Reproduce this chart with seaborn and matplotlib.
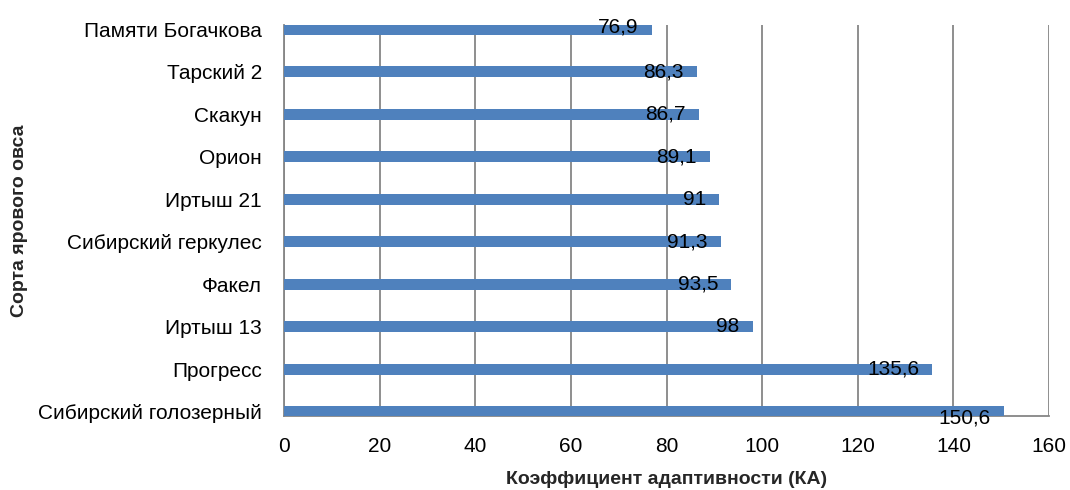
import matplotlib
matplotlib.use("Agg")
import matplotlib.pyplot as plt
import pandas as pd
import seaborn as sns

varieties = ["Памяти Богачкова", "Тарский 2", "Скакун", "Орион", "Иртыш 21",
             "Сибирский геркулес", "Факел", "Иртыш 13", "Прогресс", "Сибирский голозерный"]
ka_values = [76.9, 86.3, 86.7, 89.1, 91.0, 91.3, 93.5, 98.0, 135.6, 150.6]
x_ticks = [0, 20, 40, 60, 80, 100, 120, 140, 160]

df = pd.DataFrame({"variety": varieties, "ka": ka_values})

sns.set_style("white")
plt.rcParams["font.family"] = ["Liberation Sans", "DejaVu Sans"]

fig = plt.figure(figsize=(10.7, 4.9), dpi=100)
ax = fig.add_axes([284 / 1070, 1 - 416 / 490, (1049 - 284) / 1070, (416 - 25) / 490])

sns.barplot(data=df, x="ka", y="variety", color="#4F81BD", width=0.25,
            saturation=1, edgecolor="none", linewidth=0, ax=ax, zorder=3)

ax.set_xlim(0, 160)
ax.set_ylim(len(varieties) - 1 + 0.1, -0.1)
ax.set_xticks(x_ticks)
ax.set_xticklabels([str(t) for t in x_ticks])
ax.grid(axis="x", color="#868686", linewidth=1.3, zorder=0)
ax.grid(axis="y", visible=False)

for s in ["top", "right"]:
    ax.spines[s].set_visible(False)
for s in ["left", "bottom"]:
    ax.spines[s].set_color("#868686")
    ax.spines[s].set_linewidth(1.3)

ax.tick_params(axis="both", length=0, labelsize=15, colors="black")
ax.tick_params(axis="y", pad=16)
ax.tick_params(axis="x", pad=15)

for i, v in enumerate(ka_values):
    label = f"{v:g}".replace(".", ",")
    dy = 0
    if i == 0:
        dy = 2
    elif i == len(ka_values) - 1:
        dy = -6
    ax.annotate(label, xy=(v, i), xytext=(-13, dy), textcoords="offset pixels",
                ha="right", va="center", fontsize=15, color="black", zorder=5)

ax.set_xlabel("Коэффициент адаптивности (КА)", fontsize=14, fontweight="bold")
ax.set_ylabel("Сорта ярового овса", fontsize=14, fontweight="bold")
ax.xaxis.set_label_coords(0.5, -0.14)
ax.yaxis.set_label_coords(-0.334, 0.5)

fig.savefig("out.png", dpi=100)
